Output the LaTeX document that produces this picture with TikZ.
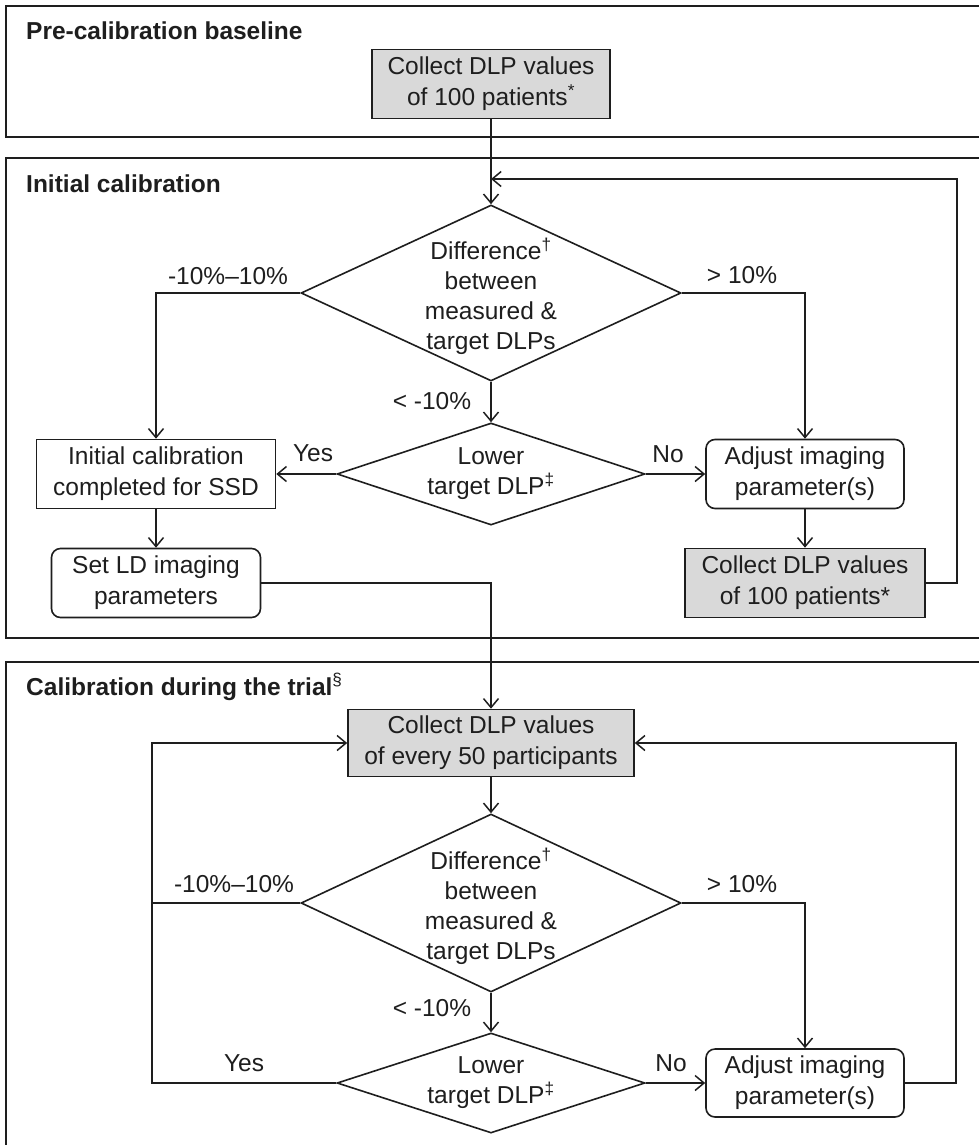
\documentclass[tikz,border=0pt]{standalone}
\usepackage{fontspec}
\setmainfont{Liberation Sans}
\usetikzlibrary{shapes.geometric,arrows.meta}
\definecolor{boxgray}{RGB}{217,217,217}
\definecolor{ink}{RGB}{30,30,30}
\tikzset{
  every node/.style={font=\fontsize{24.5}{31}\selectfont, text=ink},
  panel/.style={draw=ink, line width=2pt},
  title/.style={font=\fontsize{24.5}{31}\selectfont\bfseries, anchor=base west, inner sep=0pt},
  box/.style={draw=ink, line width=1.6pt, align=center, inner sep=0pt},
  graybox/.style={box, fill=boxgray},
  rbox/.style={box, rounded corners=9pt},
  dia/.style={diamond, draw=ink, line width=1.6pt, inner sep=0pt},
  dtext/.style={align=center, inner sep=0pt, font=\fontsize{24.5}{30}\selectfont},
  lab/.style={inner sep=0pt},
  arr/.style={draw=ink, line width=1.5pt, -{Straight Barb[length=9pt,width=15pt]}},
  ln/.style={draw=ink, line width=1.5pt},
}
\begin{document}
\begin{tikzpicture}[x=1pt,y=-1pt]
\useasboundingbox (0,0) rectangle (979,1145);
\fill[white] (0,0) rectangle (979,1145);
% panels
\draw[panel] (6,6) rectangle (992,137);
\draw[panel] (6,158) rectangle (992,638);
\draw[panel] (6,662) rectangle (992,1160);
\node[title] (t1) at (26,40) {Pre-calibration baseline};
\node[title] (t2) at (26,192) {Initial calibration};
\node[title] (t3) at (26,695) {Calibration during the trial\textsuperscript{\mdseries §}};
% panel 1
\node[graybox, minimum width=238, minimum height=69] (c1) at (491,84) {Collect DLP values\\of 100 patients\textsuperscript{*}};
% panel 2
\node[dia, minimum width=380, minimum height=176] (d1) at (491,293) {};
\node[dtext] (d1t) at (491,296) {Difference\textsuperscript{†}\\between\\measured \&\\target DLPs};
\node[dia, minimum width=308, minimum height=102] (d2) at (491,474) {};
\node[dtext] (d2t) at (491,474) {Lower\\target DLP\textsuperscript{‡}};
\node[box, minimum width=239, minimum height=69] (b1) at (156,474) {Initial calibration\\completed for SSD};
\node[rbox, minimum width=209, minimum height=69] (s1) at (156,583) {Set LD imaging\\parameters};
\node[rbox, minimum width=198, minimum height=69] (a1) at (805,474) {Adjust imaging\\parameter(s)};
\node[graybox, minimum width=240, minimum height=69] (c2) at (805,583) {Collect DLP values\\of 100 patients*};
% panel 3
\node[graybox, minimum width=286, minimum height=67] (c3) at (491,743) {Collect DLP values\\of every 50 participants};
\node[dia, minimum width=380, minimum height=178] (d3) at (491,903) {};
\node[dtext] (d3t) at (491,906) {Difference\textsuperscript{†}\\between\\measured \&\\target DLPs};
\node[dia, minimum width=308, minimum height=100] (d4) at (491,1083) {};
\node[dtext] (d4t) at (491,1083) {Lower\\target DLP\textsuperscript{‡}};
\node[rbox, minimum width=198, minimum height=68] (a3) at (805,1083) {Adjust imaging\\parameter(s)};
% labels
\node[lab] (l1) at (228,276) {-10\%--10\%};
\node[lab] (l2) at (742,275) {> 10\%};
\node[lab] (l3) at (432,401) {< -10\%};
\node[lab] (l4) at (313,453) {Yes};
\node[lab] (l5) at (668,454) {No};
\node[lab] (l6) at (234,884) {-10\%--10\%};
\node[lab] (l7) at (742,884) {> 10\%};
\node[lab] (l8) at (432,1008) {< -10\%};
\node[lab] (l9) at (244,1063) {Yes};
\node[lab] (l10) at (671,1063) {No};
% connectors panel 1/2
\coordinate (j1) at (491,179);
\coordinate (r1) at (957,179);
\draw[arr] (c1.south) -- (d1.north);
\draw[arr] (c2.east) -| (r1) -- (j1);
\draw[arr] (d1.west) -| (b1.north);
\draw[arr] (d1.east) -| (a1.north);
\draw[arr] (d1.south) -- (d2.north);
\draw[arr] (d2.west) -- (b1.east);
\draw[arr] (d2.east) -- (a1.west);
\draw[arr] (b1.south) -- (s1.north);
\draw[arr] (a1.south) -- (c2.north);
\draw[arr] (s1.east) -| (c3.north);
% connectors panel 3
\coordinate (lft) at (152,1083);
\coordinate (rgt) at (956,1083);
\draw[arr] (c3.south) -- (d3.north);
\draw[arr] (d4.west) -- (lft) |- (c3.west);
\draw[ln] (d3.west) -- (d3.west -| lft);
\draw[arr] (d3.east) -| (a3.north);
\draw[arr] (d3.south) -- (d4.north);
\draw[arr] (d4.east) -- (a3.west);
\draw[arr] (a3.east) -- (rgt) |- (c3.east);
\end{tikzpicture}
\end{document}
